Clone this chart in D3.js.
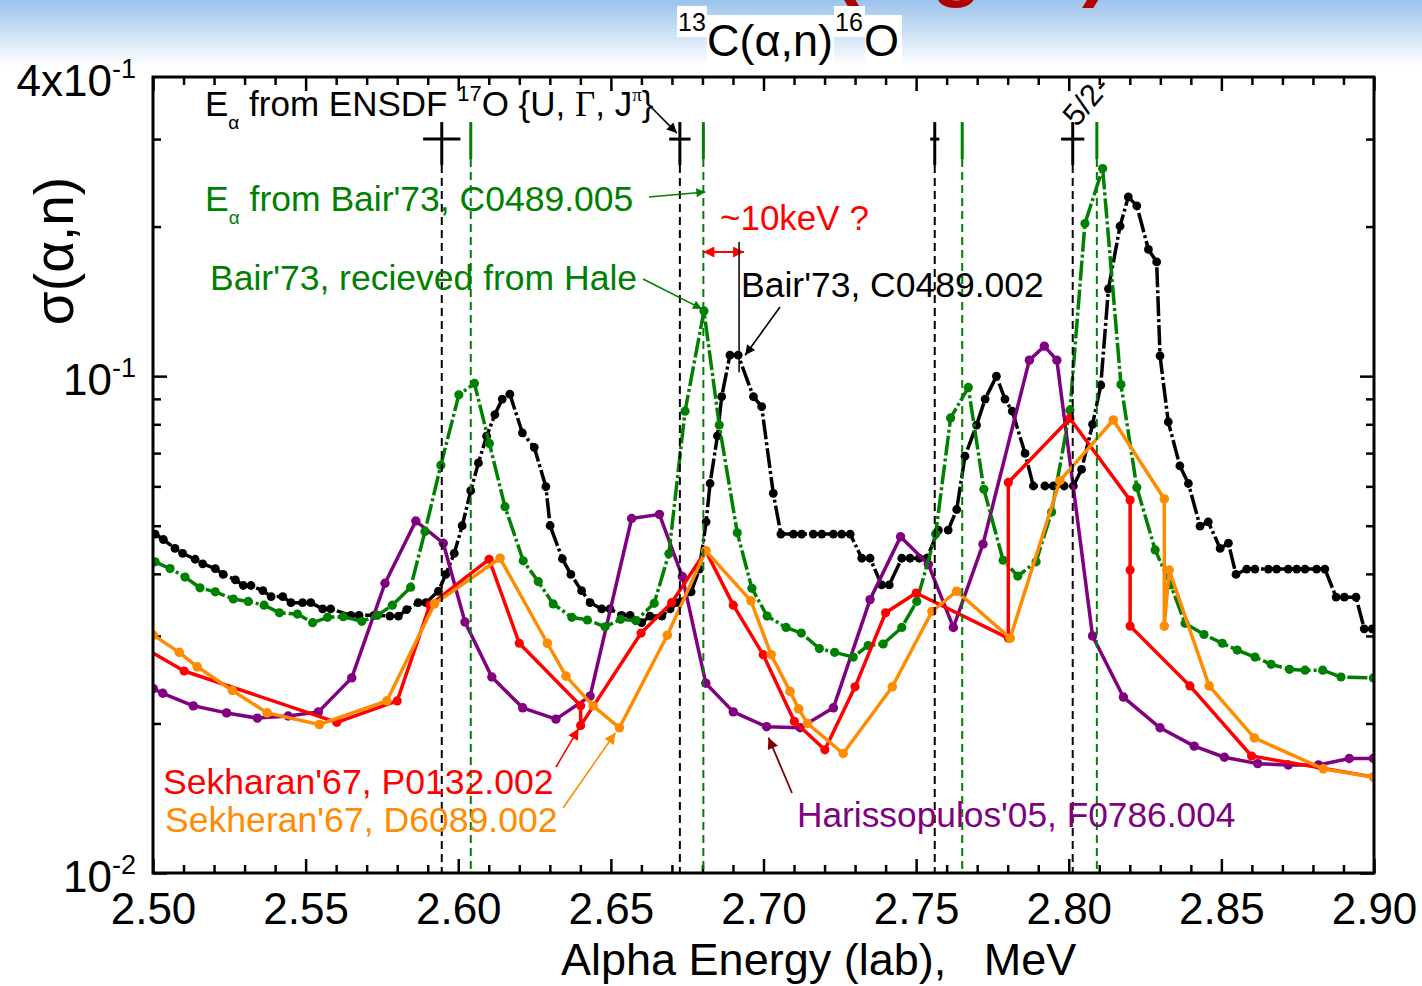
<!DOCTYPE html>
<html>
<head>
<meta charset="utf-8">
<script src="https://cdn.jsdelivr.net/npm/d3@7"></script>
<style>
  body { margin: 0; background: #fff; }
  svg { display: block; font-family: "Liberation Sans", Arial, sans-serif; }
</style>
</head>
<body>
<div id="chart"></div>
<script>
// ---- data (alpha energy in MeV, cross section in b) ----
// Bair'73, C0489.002 (black)
const bair002E = [2.5007,2.5034,2.5072,2.5097,2.5138,2.5163,2.5204,2.5230,2.5270,2.5296,2.5321,2.5360,2.5387,2.5425,2.5452,2.5490,2.5517,2.5556,2.5582,2.5648,2.5675,2.5724,2.5776,2.5804,2.5831,2.5869,2.5894,2.5935,2.5959,2.5987,2.6013,2.6041,2.6066,2.6093,2.6120,2.6144,2.6169,2.6210,2.6249,2.6287,2.6301,2.6341,2.6369,2.6404,2.6432,2.6470,2.6497,2.6535,2.6563,2.6601,2.6628,2.6667,2.6694,2.6721,2.6763,2.6790,2.6812,2.6825,2.6849,2.6863,2.6890,2.6917,2.6967,2.6994,2.7032,2.7057,2.7098,2.7125,2.7163,2.7191,2.7229,2.7256,2.7284,2.7322,2.7349,2.7387,2.7412,2.7453,2.7480,2.7510,2.7535,2.7573,2.7605,2.7633,2.7660,2.7698,2.7726,2.7763,2.7791,2.7815,2.7857,2.7884,2.7922,2.7949,2.7985,2.8015,2.8042,2.8078,2.8105,2.8130,2.8168,2.8195,2.8223,2.8261,2.8288,2.8299,2.8326,2.8364,2.8392,2.8430,2.8457,2.8496,2.8523,2.8548,2.8583,2.8610,2.8654,2.8681,2.8719,2.8747,2.8774,2.8812,2.8839,2.8876,2.8903,2.8941,2.8968,2.8994];
const bair002Sig = [0.0481,0.0469,0.0450,0.0440,0.0428,0.0419,0.0410,0.0399,0.0389,0.0379,0.0379,0.0370,0.0360,0.0360,0.0350,0.0350,0.0350,0.0340,0.0340,0.0330,0.0330,0.0330,0.0329,0.0329,0.0339,0.0350,0.0350,0.0369,0.0399,0.0440,0.0500,0.0588,0.0669,0.0757,0.0837,0.0899,0.0920,0.0769,0.0719,0.0599,0.0500,0.0429,0.0399,0.0370,0.0350,0.0340,0.0340,0.0330,0.0330,0.0319,0.0329,0.0329,0.0340,0.0350,0.0368,0.0409,0.0509,0.0608,0.0758,0.0909,0.1102,0.1102,0.0909,0.0868,0.0581,0.0481,0.0481,0.0481,0.0481,0.0481,0.0481,0.0481,0.0481,0.0430,0.0430,0.0380,0.0380,0.0430,0.0430,0.0430,0.0430,0.0490,0.0490,0.0539,0.0690,0.0797,0.0899,0.1000,0.0899,0.0850,0.0699,0.0601,0.0601,0.0601,0.0601,0.0601,0.0649,0.0800,0.0959,0.1499,0.2004,0.2295,0.2202,0.1799,0.1698,0.1099,0.0809,0.0660,0.0608,0.0499,0.0509,0.0450,0.0461,0.0399,0.0409,0.0409,0.0409,0.0409,0.0409,0.0409,0.0409,0.0409,0.0409,0.0359,0.0359,0.0359,0.0310,0.0310];

// Bair'73, recieved from Hale (green)
const haleE = [2.5007,2.5056,2.5105,2.5154,2.5204,2.5263,2.5312,2.5364,2.5414,2.5473,2.5523,2.5572,2.5623,2.5684,2.5735,2.5784,2.5844,2.5891,2.5943,2.6002,2.6053,2.6102,2.6153,2.6213,2.6262,2.6311,2.6372,2.6423,2.6481,2.6532,2.6582,2.6642,2.6690,2.6743,2.6805,2.6855,2.6914,2.6962,2.7012,2.7074,2.7124,2.7183,2.7233,2.7294,2.7343,2.7392,2.7453,2.7502,2.7564,2.7613,2.7671,2.7722,2.7785,2.7833,2.7893,2.7944,2.8004,2.8053,2.8111,2.8171,2.8223,2.8283,2.8334,2.8381,2.8443,2.8503,2.8552,2.8610,2.8663,2.8723,2.8774,2.8832,2.8892,2.8998];
const haleSig = [0.0423,0.0410,0.0394,0.0375,0.0368,0.0356,0.0352,0.0346,0.0334,0.0332,0.0319,0.0327,0.0328,0.0321,0.0330,0.0346,0.0376,0.0487,0.0662,0.0917,0.0967,0.0732,0.0546,0.0425,0.0386,0.0348,0.0327,0.0323,0.0313,0.0324,0.0322,0.0349,0.0439,0.0850,0.1353,0.0797,0.0484,0.0374,0.0329,0.0312,0.0304,0.0283,0.0278,0.0272,0.0287,0.0289,0.0312,0.0352,0.0481,0.0824,0.0949,0.0592,0.0426,0.0396,0.0423,0.0533,0.0854,0.2028,0.2617,0.0962,0.0597,0.0447,0.0380,0.0318,0.0302,0.0290,0.0281,0.0272,0.0263,0.0257,0.0256,0.0256,0.0248,0.0247];

// Sekharan'67, P0132.002 (red)
const sekharanE = [2.4974,2.5102,2.5602,2.5800,2.5907,2.6101,2.6200,2.6401,2.6401,2.6599,2.6699,2.6811,2.6901,2.6999,2.7101,2.7201,2.7300,2.7400,2.7500,2.7802,2.7802,2.8004,2.8201,2.8201,2.8201,2.8397,2.8599,2.8998];
const sekharanSig = [0.0283,0.0255,0.0201,0.0222,0.0346,0.0428,0.0290,0.0217,0.0198,0.0304,0.0350,0.0445,0.0346,0.0275,0.0202,0.0177,0.0237,0.0334,0.0366,0.0297,0.0611,0.0822,0.0563,0.0407,0.0314,0.0238,0.0172,0.0156];

// Sekheran'67, D6089.002 (orange)
const sekheranE = [2.5001,2.5086,2.5145,2.5260,2.5374,2.5545,2.5766,2.5922,2.6137,2.6292,2.6353,2.6442,2.6528,2.6685,2.6811,2.6959,2.7025,2.7087,2.7115,2.7144,2.7261,2.7422,2.7552,2.7633,2.7808,2.7971,2.8146,2.8313,2.8313,2.8329,2.8460,2.8608,2.8834,2.8998];
const sekheranSig = [0.0301,0.0278,0.0260,0.0233,0.0210,0.0199,0.0222,0.0348,0.0430,0.0290,0.0249,0.0217,0.0196,0.0301,0.0445,0.0353,0.0275,0.0232,0.0214,0.0200,0.0174,0.0237,0.0336,0.0369,0.0297,0.0616,0.0816,0.0566,0.0314,0.0407,0.0238,0.0187,0.0162,0.0156];

// Harissopulos'05, F0786.004 (purple)
const harisE = [2.5001,2.5032,2.5132,2.5241,2.5342,2.5443,2.5542,2.5651,2.5760,2.5861,2.5951,2.6022,2.6110,2.6211,2.6320,2.6432,2.6568,2.6659,2.6734,2.6811,2.6901,2.7010,2.7120,2.7229,2.7349,2.7449,2.7540,2.7622,2.7719,2.7871,2.7920,2.7961,2.8078,2.8179,2.8299,2.8411,2.8510,2.8619,2.8719,2.8818,2.8919,2.8998];
const harisSig = [0.0235,0.0230,0.0217,0.0210,0.0205,0.0207,0.0211,0.0247,0.0383,0.0511,0.0461,0.0320,0.0248,0.0215,0.0204,0.0227,0.0517,0.0527,0.0395,0.0241,0.0211,0.0197,0.0196,0.0215,0.0355,0.0475,0.0418,0.0312,0.0459,0.1077,0.1149,0.1077,0.0300,0.0226,0.0196,0.0180,0.0171,0.0166,0.0165,0.0165,0.0170,0.0170];

// resonance energies: ENSDF 17O levels (with widths) and Bair'73 C0489.005
const ensdfE = [2.5946, 2.6726, 2.7561, 2.8013];
const ensdfHalfWidth = [0.0061, 0.0035, 0.0015, 0.0038];
const bair005E = [2.6041, 2.6803, 2.7651, 2.8092];
const markerSig = 0.3;
const bairPeakE = 2.692;

// ticks
const xMajorTicks = [2.50, 2.55, 2.60, 2.65, 2.70, 2.75, 2.80, 2.85, 2.90];
const xMinorTicks = d3.range(0, 41).map(i => 2.5 + i * 0.01).filter(v => Math.round(v * 100) % 5 !== 0);
const yMajorTicks = [0.01, 0.1];
const yMinorTicks = [0.02, 0.03, 0.04, 0.05, 0.06, 0.07, 0.08, 0.09, 0.2, 0.3];
const yTickLabels = [
  {v: 0.4, base: "4x10", exp: "-1"},
  {v: 0.1, base: "10", exp: "-1"},
  {v: 0.01, base: "10", exp: "-2"}
];

// ---- layout ----
const W = 1422, H = 986;
const margin = {top: 77, right: 48, bottom: 113, left: 153};
const width = W - margin.left - margin.right;
const height = H - margin.top - margin.bottom;

const x = d3.scaleLinear().domain([2.5, 2.9]).range([0, width]);
const y = d3.scaleLog().domain([0.01, 0.4]).range([height, 0]);

const svg = d3.select('#chart').append('svg')
  .attr('width', W).attr('height', H);
const defs = svg.append('defs');

// blue band at the top of the slide
const grad = defs.append('linearGradient').attr('id', 'band')
  .attr('x1', 0).attr('y1', 0).attr('x2', 0).attr('y2', 1);
grad.append('stop').attr('offset', '0%').attr('stop-color', '#9cc3ec');
grad.append('stop').attr('offset', '100%').attr('stop-color', '#ffffff');
svg.append('rect').attr('width', W).attr('height', 66).attr('fill', 'url(#band)');

// cut-off slide heading (only the descenders are visible)
svg.append('text').attr('x', 833).attr('y', -9)
  .attr('font-size', 82).attr('font-weight', 'bold').attr('fill', '#b00000')
  .style('white-space', 'pre')
  .text('(Tight )');

defs.append('clipPath').attr('id', 'plotclip')
  .append('rect').attr('width', width).attr('height', height);

function arrowMarker(id, color, len, wid) {
  defs.append('marker').attr('id', id)
    .attr('viewBox', '0 0 10 10').attr('refX', 10).attr('refY', 5)
    .attr('markerUnits', 'userSpaceOnUse')
    .attr('markerWidth', len).attr('markerHeight', wid)
    .attr('orient', 'auto-start-reverse')
    .append('path').attr('d', 'M0,0 L10,5 L0,10 z').attr('fill', color);
}
arrowMarker('ah-black', '#000', 16, 10);
arrowMarker('ah-green', '#008000', 16, 9);
arrowMarker('ah-red', '#ff0000', 18, 11);
arrowMarker('ah-orange', '#ff8c00', 18, 11);
arrowMarker('ah-dred', '#800000', 18, 11);

// title with white patches behind it
[[677, 6, 30, 31], [707, 15, 127, 50], [834, 6, 31, 31], [865, 15, 37, 50]].forEach(r => {
  svg.append('rect').attr('x', r[0]).attr('y', r[1]).attr('width', r[2]).attr('height', r[3]).attr('fill', '#fff');
});
svg.append('text').attr('x', 678).attr('y', 31).attr('font-size', 25).text('13');
svg.append('text').attr('x', 707).attr('y', 56).attr('font-size', 45).text('C(α,n)');
svg.append('text').attr('x', 835).attr('y', 31).attr('font-size', 25).text('16');
svg.append('text').attr('x', 864).attr('y', 56).attr('font-size', 45).text('O');

// y label
svg.append('text')
  .attr('transform', 'translate(73,251) rotate(-90)')
  .attr('text-anchor', 'middle').attr('font-size', 55)
  .text('σ(α,n)');

const g = svg.append('g').attr('transform', `translate(${margin.left},${margin.top})`);

// ---- axes (ticks point inward) ----
function styleAxis(sel) {
  sel.select('.domain').remove();
  sel.selectAll('.tick line').attr('stroke', '#000').attr('stroke-width', 2.5);
}
g.append('g').attr('transform', `translate(0,${height})`)
  .call(d3.axisBottom(x).tickValues(xMajorTicks).tickSize(-14).tickSizeOuter(0)
    .tickPadding(20).tickFormat(d3.format('.2f')))
  .call(styleAxis)
  .call(s => s.selectAll('text').attr('font-size', 44).attr('fill', '#000')
    .attr('font-family', '"Liberation Sans", Arial, sans-serif'));
g.append('g').attr('transform', `translate(0,${height})`)
  .call(d3.axisBottom(x).tickValues(xMinorTicks).tickSize(-8).tickFormat(''))
  .call(styleAxis);
g.append('g')
  .call(d3.axisTop(x).tickValues(xMajorTicks).tickSize(-14).tickFormat(''))
  .call(styleAxis);
g.append('g')
  .call(d3.axisTop(x).tickValues(xMinorTicks).tickSize(-8).tickFormat(''))
  .call(styleAxis);
g.append('g')
  .call(d3.axisLeft(y).tickValues(yMajorTicks).tickSize(-14).tickFormat(''))
  .call(styleAxis);
g.append('g')
  .call(d3.axisLeft(y).tickValues(yMinorTicks).tickSize(-8).tickFormat(''))
  .call(styleAxis);
g.append('g').attr('transform', `translate(${width},0)`)
  .call(d3.axisRight(y).tickValues(yMajorTicks).tickSize(-14).tickFormat(''))
  .call(styleAxis);
g.append('g').attr('transform', `translate(${width},0)`)
  .call(d3.axisRight(y).tickValues(yMinorTicks).tickSize(-8).tickFormat(''))
  .call(styleAxis);

yTickLabels.forEach(t => {
  const tx = svg.append('text').attr('x', 136).attr('y', margin.top + y(t.v) + 19)
    .attr('text-anchor', 'end').attr('font-size', 44);
  tx.append('tspan').text(t.base);
  tx.append('tspan').attr('font-size', 27).attr('dy', -18).text(t.exp);
});

svg.append('text').attr('x', 561).attr('y', 975).attr('font-size', 45)
  .style('white-space', 'pre')
  .text('Alpha Energy (lab),   MeV');

// ---- series ----
const plot = g.append('g').attr('clip-path', 'url(#plotclip)');
const line = d3.line().x(d => x(d[0])).y(d => y(d[1]));

function drawSeries(E, S, color, dash, r) {
  const pts = E.map((e, i) => [e, S[i]]);
  plot.append('path').datum(pts)
    .attr('d', line).attr('fill', 'none')
    .attr('stroke', color).attr('stroke-width', 3.5)
    .attr('stroke-linejoin', 'round')
    .attr('stroke-dasharray', dash);
  plot.append('g').selectAll('circle').data(pts).join('circle')
    .attr('cx', d => x(d[0])).attr('cy', d => y(d[1]))
    .attr('r', r).attr('fill', color);
}
drawSeries(bair002E, bair002Sig, '#000000', '20,3,3,3', 4.4);
drawSeries(harisE, harisSig, '#800080', null, 4.7);
drawSeries(haleE, haleSig, '#008000', '20,3,3,3', 4.6);
drawSeries(sekharanE, sekharanSig, '#ff0000', null, 4.6);
drawSeries(sekheranE, sekheranSig, '#ff8c00', null, 4.8);

// ---- resonance markers ----
const my = y(markerSig);
ensdfE.forEach((e, i) => {
  const cx = x(e);
  const hw = x(e + ensdfHalfWidth[i]) - cx;
  g.append('line').attr('x1', cx).attr('x2', cx).attr('y1', my - 17).attr('y2', my + 26)
    .attr('stroke', '#000').attr('stroke-width', 3);
  g.append('line').attr('x1', cx - hw).attr('x2', cx + hw).attr('y1', my).attr('y2', my)
    .attr('stroke', '#000').attr('stroke-width', 3);
  g.append('line').attr('x1', cx).attr('x2', cx).attr('y1', my + 26).attr('y2', height)
    .attr('stroke', '#000').attr('stroke-width', 2).attr('stroke-dasharray', '8,5');
});
bair005E.forEach(e => {
  const cx = x(e);
  g.append('line').attr('x1', cx).attr('x2', cx).attr('y1', my - 17).attr('y2', my + 20)
    .attr('stroke', '#008000').attr('stroke-width', 3);
  g.append('line').attr('x1', cx).attr('x2', cx).attr('y1', my + 20).attr('y2', height)
    .attr('stroke', '#008000').attr('stroke-width', 2).attr('stroke-dasharray', '8,5');
});

// ---- annotations ----
const X = e => margin.left + x(e);
const Y = s => margin.top + y(s);

function arrow(x1, y1, x2, y2, color, marker, w, both) {
  const l = svg.append('line').attr('x1', x1).attr('y1', y1).attr('x2', x2).attr('y2', y2)
    .attr('stroke', color).attr('stroke-width', w)
    .attr('marker-end', `url(#${marker})`);
  if (both) l.attr('marker-start', `url(#${marker})`);
}

// E_alpha from ENSDF 17O {U, Gamma, J^pi}
const t1 = svg.append('text').attr('x', 205).attr('y', 116).attr('font-size', 35).attr('fill', '#000');
t1.append('tspan').text('E');
t1.append('tspan').attr('font-size', 19).attr('dy', 13).text('α');
t1.append('tspan').attr('dy', -13).style('white-space', 'pre').text(' from ENSDF ');
t1.append('tspan').attr('font-size', 22).attr('dy', -15).text('17');
t1.append('tspan').attr('dy', 15).style('white-space', 'pre').text('O {U, ');
t1.append('tspan').attr('font-family', '"Liberation Serif", serif').text('Γ');
t1.append('tspan').style('white-space', 'pre').text(', J');
t1.append('tspan').attr('font-size', 19).attr('font-family', '"Liberation Serif", serif').attr('dy', -15).text('π');
t1.append('tspan').attr('dy', 15).text('}');
arrow(650, 106, X(ensdfE[1]) - 3, Y(markerSig) - 6, '#000', 'ah-black', 1.6);

// E_alpha from Bair'73, C0489.005
const t2 = svg.append('text').attr('x', 205).attr('y', 211).attr('font-size', 35.5).attr('fill', '#008000');
t2.append('tspan').text('E');
t2.append('tspan').attr('font-size', 19).attr('dy', 13).text('α');
t2.append('tspan').attr('dy', -13).style('white-space', 'pre').text(" from Bair'73, C0489.005");
arrow(649, 197, X(bair005E[1]) + 2, 192, '#008000', 'ah-green', 1.6);

// Bair'73, recieved from Hale
svg.append('text').attr('x', 210).attr('y', 290).attr('font-size', 35.5).attr('fill', '#008000')
  .text("Bair'73, recieved from Hale");
arrow(643, 279, X(2.6805) - 2, Y(0.1353) - 2, '#008000', 'ah-green', 1.6);

// ~10keV ?
svg.append('text').attr('x', 720).attr('y', 230).attr('font-size', 35).attr('fill', '#ff0000')
  .text('~10keV ?');
arrow(X(bair005E[1]), 252, X(bairPeakE) + 5, 252, '#ff0000', 'ah-red', 2, true);
svg.append('line').attr('x1', X(bairPeakE)).attr('x2', X(bairPeakE))
  .attr('y1', 242).attr('y2', Y(0.1102) + 17)
  .attr('stroke', '#000').attr('stroke-width', 1.5);

// Bair'73, C0489.002
svg.append('text').attr('x', 741).attr('y', 297).attr('font-size', 35.5).attr('fill', '#000')
  .text("Bair'73, C0489.002");
arrow(780, 307, X(2.6917) + 7, Y(0.1102), '#000', 'ah-black', 1.6);

// 5/2-
svg.append('text').attr('transform', 'translate(1077,128) rotate(-50)')
  .attr('font-size', 31).attr('fill', '#000').text('5/2-');

// Sekharan / Sekheran
svg.append('text').attr('x', 163).attr('y', 794).attr('font-size', 35.6).attr('fill', '#ff0000')
  .text("Sekharan'67, P0132.002");
arrow(556, 767, X(2.6401) - 2, Y(0.0198) + 3, '#ff0000', 'ah-red', 1.6);
svg.append('text').attr('x', 165).attr('y', 832).attr('font-size', 35.6).attr('fill', '#ff8c00')
  .text("Sekheran'67, D6089.002");
arrow(563, 808, X(2.6528) - 4, Y(0.0196) + 5, '#ff8c00', 'ah-orange', 1.6);

// Harissopulos
svg.append('text').attr('x', 797).attr('y', 827).attr('font-size', 35.3).attr('fill', '#800080')
  .text("Harissopulos'05, F0786.004");
arrow(792, 793, X(2.7010) + 2, Y(0.0197) + 11, '#800000', 'ah-dred', 1.8);

// frame on top
g.append('rect').attr('width', width).attr('height', height)
  .attr('fill', 'none').attr('stroke', '#000').attr('stroke-width', 3);
</script>
</body>
</html>
